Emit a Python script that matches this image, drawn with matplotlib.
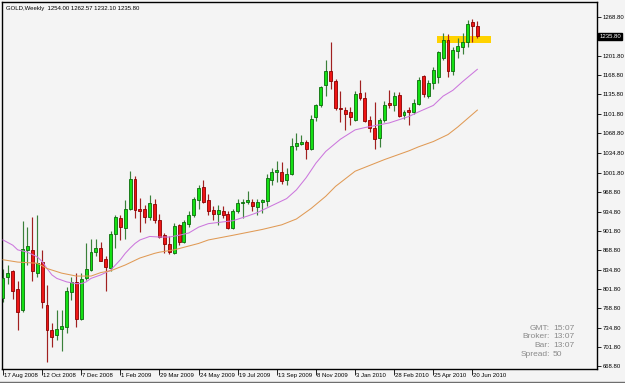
import matplotlib
matplotlib.use("Agg")
import matplotlib.pyplot as plt
import matplotlib.transforms as mtransforms
from matplotlib.patches import Rectangle
from matplotlib.lines import Line2D
import pandas as pd

# ---------------- data ----------------
chart_title = "GOLD,Weekly  1254.00 1262.57 1232.10 1235.80"
first_week = "2008-08-17"

opens = [787, 822, 833, 802, 766, 869, 869, 830, 848, 774,
         732, 723, 733, 736, 796, 814, 750, 820, 834, 866,
         873, 853, 838, 896, 923, 907, 940, 991, 939, 939,
         925, 947, 921, 894, 879, 863, 911, 883, 913, 929,
         955, 977, 955, 937, 931, 936, 930, 907, 935, 949,
         952, 952, 943, 951, 953, 989, 1003, 1003, 989, 1000,
         1047, 1051, 1055, 1042, 1097, 1117, 1152, 1176, 1159, 1112,
         1109, 1106, 1092, 1138, 1129, 1092, 1079, 1061, 1092, 1121,
         1117, 1135, 1100, 1109, 1106, 1119, 1168, 1133, 1156, 1165,
         1198, 1229, 1176, 1211, 1218, 1226, 1260, 1254.00]
highs = [836, 843, 835, 815, 919, 909, 926, 928, 869, 808,
         743, 766, 766, 806, 822, 830, 829, 880, 888, 888,
         883, 859, 902, 929, 929, 955, 1004, 996, 958, 946,
         964, 956, 931, 898, 893, 915, 914, 920, 935, 960,
         981, 989, 965, 945, 946, 945, 935, 940, 956, 956,
         970, 956, 956, 957, 999, 1009, 1022, 1019, 1009, 1061,
         1069, 1066, 1058, 1100, 1120, 1150, 1195, 1226, 1162, 1141,
         1115, 1115, 1141, 1161, 1140, 1098, 1123, 1096, 1125, 1143,
         1140, 1140, 1109, 1115, 1128, 1165, 1170, 1160, 1183, 1211,
         1242, 1240, 1217, 1232, 1242, 1264, 1265, 1262.57]
lows = [780, 811, 785, 731, 763, 843, 815, 823, 769, 677,
        703, 714, 695, 727, 783, 737, 748, 817, 832, 859,
        849, 798, 832, 872, 886, 888, 937, 924, 900, 915,
        920, 915, 889, 863, 862, 862, 878, 881, 909, 925,
        940, 950, 928, 920, 911, 924, 905, 905, 933, 923,
        947, 935, 929, 932, 945, 980, 986, 982, 981, 997,
        1040, 1049, 1025, 1040, 1090, 1115, 1133, 1145, 1109, 1089,
        1074, 1083, 1090, 1126, 1088, 1072, 1043, 1045, 1088, 1112,
        1108, 1097, 1093, 1083, 1103, 1117, 1131, 1129, 1145, 1155,
        1195, 1165, 1170, 1199, 1206, 1218, 1226, 1232.10]
closes = [820, 829, 798, 762, 870, 876, 832, 847, 780, 731,
          720, 733, 738, 798, 814, 751, 819, 836, 866, 872,
          850, 839, 896, 925, 909, 939, 991, 937, 936, 926,
          949, 920, 891, 879, 865, 910, 883, 917, 929, 956,
          976, 952, 936, 931, 937, 929, 907, 935, 949, 952,
          954, 945, 951, 954, 992, 1003, 1006, 988, 1000, 1047,
          1052, 1054, 1043, 1093, 1118, 1149, 1176, 1159, 1113, 1111,
          1103, 1097, 1137, 1129, 1091, 1078, 1060, 1092, 1118, 1117,
          1133, 1099, 1105, 1106, 1122, 1161, 1136, 1156, 1178, 1208,
          1230, 1176, 1213, 1219, 1226, 1256, 1254, 1235.80]

# moving averages (bar index, value)
ma_fast_idx = [0, 2, 3, 5, 7, 8, 9, 10, 11, 13, 15, 16, 17, 18, 20, 22, 23, 24,
               25, 26, 27, 28, 30, 32, 34, 36, 38, 40, 42, 44, 47, 50, 52, 55,
               58, 60, 62, 64, 66, 69, 72, 74, 79, 83, 85, 88, 90, 92, 94, 97]
ma_fast_val = [886, 877, 869, 865, 857, 849, 837, 826, 820, 814, 811, 811, 814,
               820, 826, 834, 843, 852, 863, 872, 880, 886, 892, 891, 891, 894,
               898, 908, 914, 916, 919, 927, 933, 945, 957, 972, 993, 1018,
               1038, 1059, 1075, 1079, 1087, 1098, 1106, 1117, 1133, 1143,
               1158, 1179]
ma_slow_idx = [0, 3, 7, 9, 12, 15, 18, 20, 22, 25, 28, 31, 32, 35, 40, 42, 47,
               53, 57, 60, 63, 66, 68, 72, 78, 83, 85, 88, 91, 93, 97]
ma_slow_val = [852, 848, 846, 837, 829, 824, 824, 830, 833, 843, 855, 863, 865,
               869, 880, 886, 894, 904, 912, 922, 940, 961, 978, 1004, 1024,
               1039, 1046, 1055, 1067, 1080, 1109]

ytick_values = [1268.80, 1201.80, 1168.80, 1135.80, 1101.80, 1068.80, 1034.80,
                1001.80, 968.80, 934.80, 901.80, 868.80, 834.80, 801.80,
                768.80, 734.80, 701.80, 668.80]
xtick_labels = ["17 Aug 2008", "12 Oct 2008", "7 Dec 2008", "1 Feb 2009",
                "29 Mar 2009", "24 May 2009", "19 Jul 2009", "13 Sep 2009",
                "8 Nov 2009", "3 Jan 2010", "28 Feb 2010", "25 Apr 2010",
                "20 Jun 2010"]

zone_low, zone_high = 1224.5, 1235.5
zone_from, zone_to = 88.75, 99.8
last_price = 1235.80

info_labels = ["GMT:", "Broker:", "Bar:", "Spread:"]
info_values = ["15:07", "13:07", "13:07", "50"]

# ---------------- style ----------------
BG = "#F4F4F4"
BULL_BODY, BULL_EDGE, BULL_WICK = "#14E014", "#0B6B0B", "#3A803A"
BEAR_BODY, BEAR_EDGE, BEAR_WICK = "#EE1515", "#8A0000", "#A02020"
FAST_C, SLOW_C = "#CC77DD", "#E09A55"
FONT = "Liberation Sans"
SMALL = 4.3

W, H = 625, 383
fig = plt.figure(figsize=(W / 100, H / 100), dpi=100, facecolor=BG)
ax = fig.add_axes([2 / W, 14 / H, 595 / W, 367 / H])
ax.set_facecolor(BG)

n = len(closes)
dates = pd.date_range(first_week, periods=n, freq="7D")

# zone
ax.add_patch(Rectangle((zone_from, zone_low), zone_to - zone_from,
                       zone_high - zone_low, facecolor="#FFD200",
                       edgecolor="none", zorder=1))

bw = 0.6
for i in range(n):
    o, h, l, c = opens[i], highs[i], lows[i], closes[i]
    bull = c >= o
    ax.vlines(i, l, h, color=BULL_WICK if bull else BEAR_WICK, lw=0.85, zorder=2)
    bottom = min(o, c)
    height = max(abs(c - o), 1.6)
    ax.add_patch(Rectangle((i - bw / 2, bottom), bw, height,
                           facecolor=BULL_BODY if bull else BEAR_BODY,
                           edgecolor=BULL_EDGE if bull else BEAR_EDGE,
                           lw=0.6, zorder=3))

ax.plot(ma_fast_idx, ma_fast_val, color=FAST_C, lw=0.75, zorder=4)
ax.plot(ma_slow_idx, ma_slow_val, color=SLOW_C, lw=0.75, zorder=4)

ax.set_xlim(-0.2045, 121.47)
ax.set_ylim(664.4, 1294.6)

for s in ax.spines.values():
    s.set_color("black")
    s.set_linewidth(1.0)

# y axis on the right
ax.yaxis.tick_right()
ax.set_yticks(ytick_values)
ax.set_yticklabels([f"{v:.2f}" for v in ytick_values])
ax.tick_params(axis="y", length=3, width=0.6, pad=1, labelsize=SMALL,
               colors="black")
for t in ax.get_yticklabels():
    t.set_fontfamily(FONT)

# x axis ticks and labels
labels_all = [f"{d.day} {d:%b %Y}" for d in dates]
xpos = [labels_all.index(lbl) for lbl in xtick_labels]
ax.set_xticks(xpos)
ax.set_xticklabels([])
ax.tick_params(axis="x", length=4, width=0.6, direction="out", colors="black")
trans = mtransforms.blended_transform_factory(ax.transData, ax.transAxes)
for p, lbl in zip(xpos, xtick_labels):
    ax.text(p + 0.2, -0.0165, lbl, transform=trans, ha="left", va="center",
            fontsize=SMALL, family=FONT, color="black", clip_on=False)

# current price box
tr2 = mtransforms.blended_transform_factory(ax.transAxes, ax.transData)
ax.text(1.004, last_price, f"{last_price:.2f}", transform=tr2, ha="left",
        va="center", fontsize=SMALL, family=FONT, color="white",
        bbox=dict(boxstyle="square,pad=0.18", facecolor="black",
                  edgecolor="black"), clip_on=False)

# title
fig.text(6 / W, 1 - 8.5 / H, chart_title, ha="left", va="center",
         fontsize=SMALL, family=FONT, color="black")

# info block
ys = [328, 337, 345.5, 354]
for lab, val, y in zip(info_labels, info_values, ys):
    fig.text(550 / W, 1 - y / H, lab, ha="right", va="center", fontsize=6,
             family=FONT, color="#8A8A8A")
    fig.text(553 / W, 1 - y / H, val, ha="left", va="center", fontsize=6,
             family=FONT, color="#8A8A8A")

# bottom status strip line
fig.add_artist(Line2D([0, 1], [0.6 / H, 0.6 / H], transform=fig.transFigure,
                      color="#6E6E6E", lw=1.0))

fig.savefig("out.png", dpi=100, facecolor=BG)
